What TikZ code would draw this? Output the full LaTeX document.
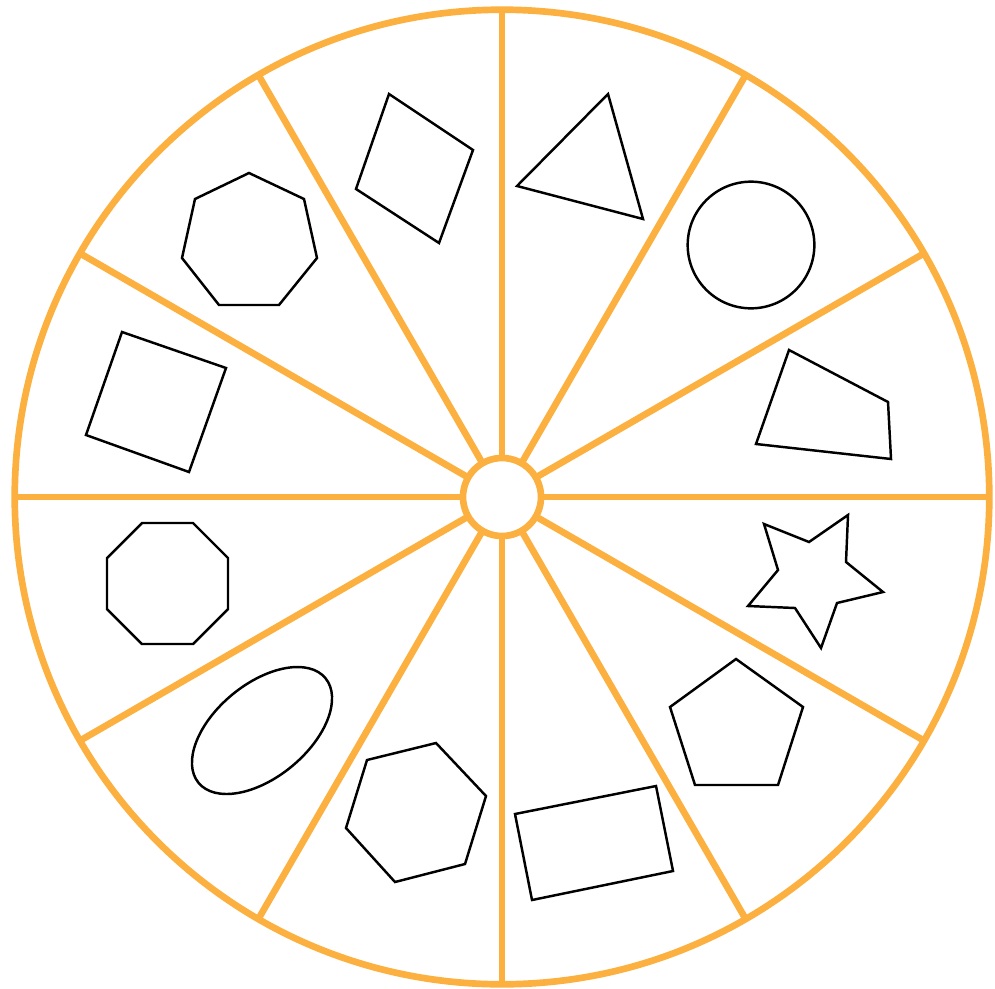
\documentclass[tikz,border=0pt]{standalone}
\usetikzlibrary{calc}
\definecolor{wheelorange}{RGB}{251,176,64}

\begin{document}
\begin{tikzpicture}[x=0.01cm, y=-0.01cm, rim/.style={draw=wheelorange, line width=1.9pt}, figline/.style={draw=black, line width=0.7pt, line join=miter}]

\useasboundingbox (0,0) rectangle (995,988);
\coordinate (hub) at (502,497);

% wheel
\draw[rim] (hub) circle[radius=4.87cm];
\foreach \a in {0,30,...,330}
  \draw[rim] ($(hub)+(\a:39)$) -- ($(hub)+(\a:487)$);
\draw[rim, fill=white] (hub) circle[radius=0.39cm];

% shapes, clockwise from the top
\draw[figline] (517,186) -- (608,94) -- (643,219) -- cycle;
\draw[figline] (751,245) circle[radius=0.633cm];
\draw[figline] (789,350) -- (888,402) -- (891,459) -- (756,444) -- cycle;
\draw[figline] (764,524) -- (809,542) -- (848,515) -- (846,562) -- (883,592) -- (837,603) -- (821,648) -- (795,608) -- (748,606) -- (778,570) -- cycle;
\draw[figline] (736,659) -- (803,707) -- (778,785) -- (695,785) -- (670,707) -- cycle;
\draw[figline] (515,814) -- (656,786) -- (673,871) -- (532,900) -- cycle;
\draw[figline] (367,760) -- (436,743) -- (486,796) -- (465,864) -- (395,882) -- (346,828) -- cycle;
\draw[figline, rotate around={39.5:(262,730.5)}] (262,730.5) ellipse[x radius=0.822cm, y radius=0.466cm];
\draw[figline] (142,523) -- (193,523) -- (228,558) -- (228,609) -- (193,644) -- (142,644) -- (107,609) -- (107,558) -- cycle;
\draw[figline] (122,332) -- (226,368) -- (189,472) -- (86,435) -- cycle;
\draw[figline] (249,173) -- (304,199) -- (317,258) -- (279,305) -- (219,305) -- (182,258) -- (195,199) -- cycle;
\draw[figline] (389,94) -- (473,150) -- (439,243) -- (356,189) -- cycle;

\end{tikzpicture}
\end{document}
